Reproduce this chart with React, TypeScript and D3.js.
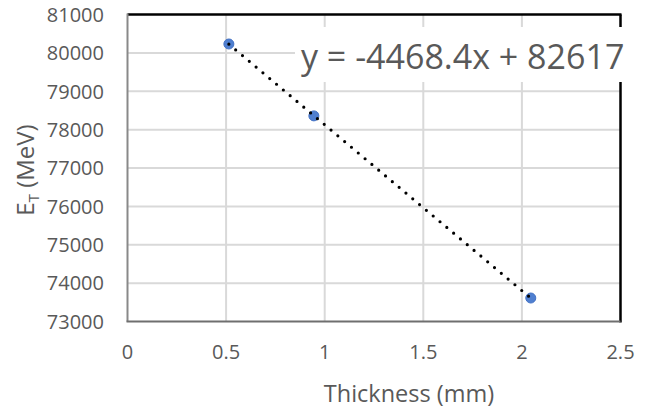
import React from "react";
import * as d3 from "d3";

const thickness = [0.514, 0.945, 2.045];
const energy = [80234, 78360, 73612];
const xTicks = [0, 0.5, 1, 1.5, 2, 2.5];
const yTicks = [73000, 74000, 75000, 76000, 77000, 78000, 79000, 80000, 81000];
const equationLabel = "y = -4468.4x + 82617";
const xTitle = "Thickness (mm)";

const W = 648;
const H = 412;
const FONT = "'Open Sans', sans-serif";

export default function App() {
  const x = d3.scaleLinear().domain([0, 2.5]).range([127.5, 620.5]);
  const y = d3.scaleLinear().domain([73000, 81000]).range([321.5, 14.6]);

  const n = thickness.length;
  const mx = d3.mean(thickness)!;
  const my = d3.mean(energy)!;
  let sxy = 0, sxx = 0;
  for (let i = 0; i < n; i++) {
    sxy += (thickness[i] - mx) * (energy[i] - my);
    sxx += (thickness[i] - mx) ** 2;
  }
  const slope = sxy / sxx;
  const icpt = my - slope * mx;
  const [x0, x1] = d3.extent(thickness) as [number, number];
  const trend = d3.line<number>().x((d) => x(d)).y((d) => y(slope * d + icpt))([x0, x1]);

  const left = x(0), right = x(2.5), top = y(81000), bottom = y(73000);

  return (
    <svg width={W} height={H} style={{ position: "absolute", left: 0, top: 0 }} fontFamily={FONT}>
      <rect x={0} y={0} width={W} height={H} fill="#ffffff" />
      {/* gridlines */}
      {yTicks.filter((t) => t !== 73000 && t !== 81000).map((t) => (
        <line key={"gy" + t} x1={left} x2={right} y1={y(t)} y2={y(t)} stroke="#d9d9d9" strokeWidth={2} />
      ))}
      {xTicks.filter((t) => t !== 0 && t !== 2.5).map((t) => (
        <line key={"gx" + t} x1={x(t)} x2={x(t)} y1={top} y2={bottom} stroke="#d9d9d9" strokeWidth={2} />
      ))}
      {/* borders */}
      <line x1={left} x2={right + 1} y1={top} y2={top} stroke="#000" strokeWidth={2.5} />
      <line x1={right} x2={right} y1={top} y2={bottom + 1} stroke="#000" strokeWidth={2.5} />
      <line x1={left} x2={left} y1={top - 1} y2={bottom} stroke="#898989" strokeWidth={2} />
      <line x1={left - 1} x2={right} y1={bottom} y2={bottom} stroke="#6f6f6f" strokeWidth={2} />
      {/* markers */}
      {thickness.map((t, i) => (
        <circle key={"m" + i} cx={x(t)} cy={y(energy[i])} r={5} fill="#4f7fd0" stroke="#4472c4" strokeWidth={1} />
      ))}
      {/* trendline */}
      <path d={trend ?? ""} fill="none" stroke="#000" strokeWidth={3.2} strokeDasharray="0 8.9" strokeLinecap="round" />
      {/* equation label */}
      <rect x={295} y={27} width={340} height={55} fill="#ffffff" />
      <text x={301} y={69} fontSize={34} fill="#595959">{equationLabel}</text>
      {/* y tick labels */}
      {yTicks.map((t) => (
        <text key={"yl" + t} x={104} y={y(t)} dy="0.36em" textAnchor="end" fontSize={20} fill="#595959">{t}</text>
      ))}
      {/* x tick labels */}
      {xTicks.map((t) => (
        <text key={"xl" + t} x={x(t)} y={359} textAnchor="middle" fontSize={20} fill="#595959">{t}</text>
      ))}
      {/* axis titles */}
      <text x={409} y={402} textAnchor="middle" fontSize={23.5} fill="#595959">{xTitle}</text>
      <text transform="translate(34,170) rotate(-90)" textAnchor="middle" fontSize={24} fill="#595959">
        E<tspan fontSize={15} dy={5}>T</tspan><tspan dy={-5}> (MeV)</tspan>
      </text>
    </svg>
  );
}
